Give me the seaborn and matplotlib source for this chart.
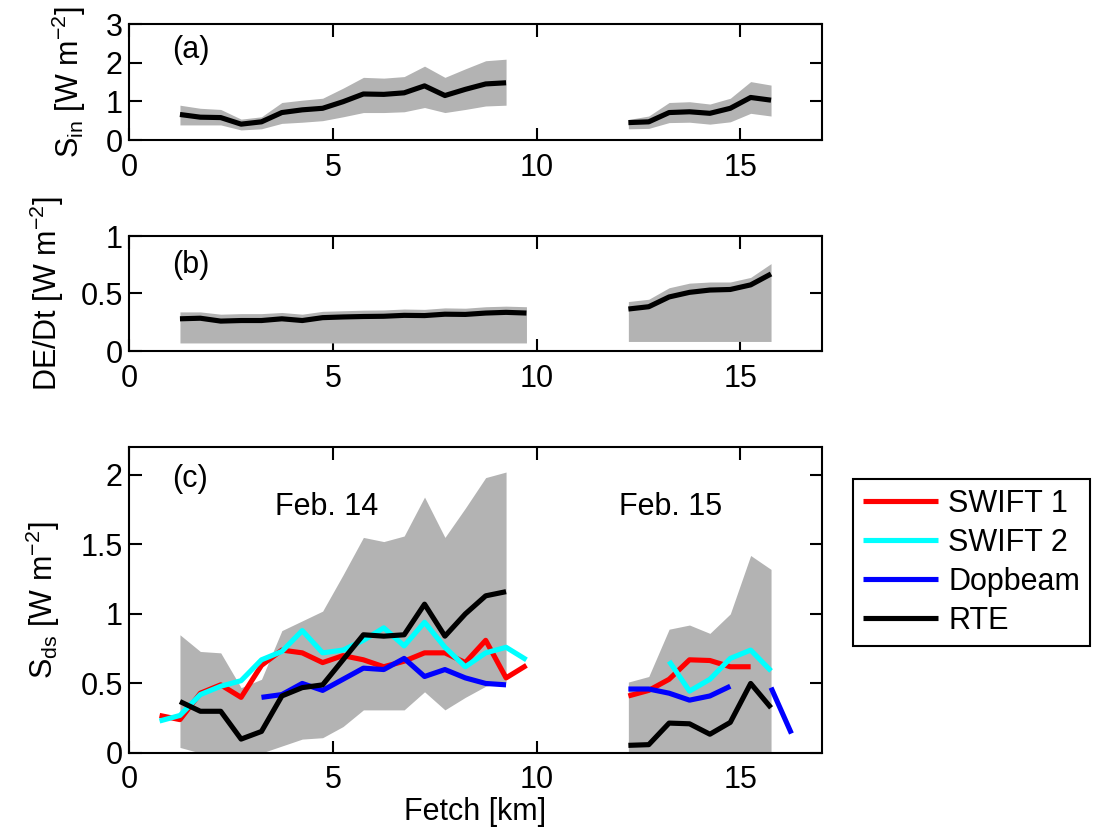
import numpy as np
import pandas as pd
import matplotlib
matplotlib.use("Agg")
import matplotlib.pyplot as plt
import seaborn as sns
from matplotlib.lines import Line2D

# ---------------- data ----------------
# fetch positions [km]
fetch_14 = [1.25, 1.75, 2.25, 2.75, 3.25, 3.75, 4.25, 4.75, 5.25, 5.75,
            6.25, 6.75, 7.25, 7.75, 8.25, 8.75, 9.25]
fetch_15 = [12.25, 12.75, 13.25, 13.75, 14.25, 14.75, 15.25, 15.75]
fetch_b14 = [1.25, 1.75, 2.25, 2.75, 3.25, 3.75, 4.25, 4.75, 5.25, 5.75,
             6.25, 6.75, 7.25, 7.75, 8.25, 8.75, 9.25, 9.75]
fetch_swift14 = [0.75, 1.25, 1.75, 2.25, 2.75, 3.25, 3.75, 4.25, 4.75, 5.25,
                 5.75, 6.25, 6.75, 7.25, 7.75, 8.25, 8.75, 9.25, 9.75]
fetch_dop14 = [3.25, 3.75, 4.25, 4.75, 5.25, 5.75, 6.25, 6.75, 7.25, 7.75,
               8.25, 8.75, 9.25]
fetch_swift1_15 = [12.25, 12.75, 13.25, 13.75, 14.25, 14.75, 15.25]
fetch_swift2_15 = [13.25, 13.75, 14.25, 14.75, 15.25, 15.75]
fetch_dop15a = [12.25, 12.75, 13.25, 13.75, 14.25, 14.75]
fetch_dop15b = [15.75, 16.25]

# (a) wind input S_in
sin_14 = [0.66, 0.59, 0.58, 0.41, 0.47, 0.71, 0.78, 0.82, 0.99, 1.19,
          1.18, 1.22, 1.40, 1.15, 1.31, 1.45, 1.48]
sin_14_hi = [0.90, 0.82, 0.79, 0.54, 0.60, 0.97, 1.03, 1.08, 1.34, 1.62,
             1.60, 1.64, 1.91, 1.62, 1.84, 2.05, 2.09]
sin_14_lo = [0.39, 0.39, 0.39, 0.26, 0.29, 0.43, 0.46, 0.50, 0.60, 0.71,
             0.71, 0.73, 0.84, 0.71, 0.79, 0.88, 0.90]
sin_15 = [0.45, 0.47, 0.71, 0.73, 0.69, 0.82, 1.10, 1.03]
sin_15_hi = [0.53, 0.62, 0.97, 0.99, 0.93, 1.08, 1.51, 1.42]
sin_15_lo = [0.29, 0.30, 0.45, 0.46, 0.41, 0.47, 0.69, 0.62]

# (b) DE/Dt
dedt_14 = [0.280, 0.285, 0.260, 0.265, 0.265, 0.280, 0.265, 0.290, 0.296,
           0.300, 0.302, 0.310, 0.308, 0.320, 0.318, 0.330, 0.336, 0.330]
dedt_14_hi = [0.340, 0.340, 0.320, 0.325, 0.325, 0.335, 0.320, 0.345, 0.350,
              0.355, 0.357, 0.365, 0.362, 0.375, 0.372, 0.385, 0.390, 0.385]
dedt_14_lo = [0.07, 0.07, 0.07, 0.07, 0.07, 0.07, 0.07, 0.07, 0.07,
              0.07, 0.07, 0.07, 0.07, 0.07, 0.07, 0.07, 0.07, 0.07]
dedt_15 = [0.365, 0.385, 0.470, 0.510, 0.530, 0.535, 0.575, 0.670]
dedt_15_hi = [0.43, 0.45, 0.55, 0.59, 0.60, 0.60, 0.64, 0.76]
dedt_15_lo = [0.083, 0.083, 0.083, 0.083, 0.083, 0.083, 0.083, 0.083]

# (c) dissipation S_ds
sds_band_14_hi = [0.85, 0.73, 0.72, 0.47, 0.53, 0.88, 0.95, 1.02, 1.28, 1.55,
                  1.52, 1.56, 1.84, 1.55, 1.76, 1.98, 2.02]
sds_band_14_lo = [0.04, 0.0, 0.0, 0.0, 0.0, 0.05, 0.10, 0.11, 0.19, 0.31,
                  0.31, 0.31, 0.44, 0.31, 0.40, 0.48, 0.51]
sds_band_15_hi = [0.51, 0.55, 0.89, 0.92, 0.86, 1.00, 1.42, 1.32]
sds_band_15_lo = [0.0, 0.0, 0.0, 0.0, 0.0, 0.0, 0.0, 0.0]

swift1_14 = [0.27, 0.24, 0.43, 0.49, 0.40, 0.63, 0.74, 0.72, 0.65, 0.70,
             0.67, 0.62, 0.66, 0.72, 0.72, 0.65, 0.81, 0.54, 0.63]
swift1_15 = [0.41, 0.45, 0.53, 0.67, 0.665, 0.62, 0.62]
swift2_14 = [0.23, 0.27, 0.42, 0.48, 0.52, 0.67, 0.73, 0.88, 0.72, 0.74,
             0.81, 0.90, 0.77, 0.94, 0.76, 0.62, 0.72, 0.76, 0.67]
swift2_15 = [0.66, 0.445, 0.53, 0.68, 0.74, 0.59]
dop_14 = [0.40, 0.42, 0.50, 0.45, 0.53, 0.61, 0.60, 0.68, 0.55, 0.60,
          0.54, 0.50, 0.49]
dop_15a = [0.46, 0.46, 0.43, 0.38, 0.41, 0.48]
dop_15b = [0.47, 0.14]
rte_14 = [0.37, 0.30, 0.30, 0.10, 0.155, 0.41, 0.47, 0.49, 0.67, 0.85,
          0.84, 0.85, 1.07, 0.84, 1.00, 1.13, 1.16]
rte_15 = [0.055, 0.06, 0.215, 0.21, 0.135, 0.22, 0.50, 0.325]

series_names = ["SWIFT 1", "SWIFT 2", "Dopbeam", "RTE"]
series_colors = ["#ff0000", "#00ffff", "#0000ff", "#000000"]

x_ticks = [0, 5, 10, 15]
x_ticklabels = ["0", "5", "10", "15"]

# ---------------- style ----------------
sns.set_theme(style="ticks")
plt.rcParams.update({
    "font.family": ["Liberation Sans", "DejaVu Sans"],
    "font.size": 22,
    "mathtext.fontset": "custom",
    "mathtext.rm": "Liberation Sans",
    "mathtext.it": "Liberation Sans:italic",
    "mathtext.bf": "Liberation Sans:bold",
    "axes.edgecolor": "black",
    "axes.labelcolor": "black",
    "text.color": "black",
    "xtick.color": "black",
    "ytick.color": "black",
    "axes.linewidth": 1.5,
})

GRAY = "#b3b3b3"
LW = 3.7

fig = plt.figure(figsize=(11, 8.38), dpi=100)
L, W = 129 / 1100, 693 / 1100
axa = fig.add_axes([L, 1 - 140 / 838, W, 116 / 838])
axb = fig.add_axes([L, 1 - 351 / 838, W, 115 / 838])
axc = fig.add_axes([L, 1 - 753 / 838, W, 306 / 838])


def band(ax, x, lo, hi):
    ax.fill_between(x, lo, hi, color=GRAY, lw=0, zorder=1)


def line(ax, x, y, color, z=3):
    sns.lineplot(x=x, y=y, color=color, lw=LW, ax=ax, estimator=None,
                 sort=False, legend=False, zorder=z, solid_capstyle="butt")


# (a)
band(axa, fetch_14, sin_14_lo, sin_14_hi)
band(axa, fetch_15, sin_15_lo, sin_15_hi)
line(axa, fetch_14, sin_14, "black")
line(axa, fetch_15, sin_15, "black")

# (b)
band(axb, fetch_b14, dedt_14_lo, dedt_14_hi)
band(axb, fetch_15, dedt_15_lo, dedt_15_hi)
line(axb, fetch_b14, dedt_14, "black")
line(axb, fetch_15, dedt_15, "black")

# (c)
band(axc, fetch_14, sds_band_14_lo, sds_band_14_hi)
band(axc, fetch_15, sds_band_15_lo, sds_band_15_hi)
line(axc, fetch_swift14, swift1_14, series_colors[0], 3)
line(axc, fetch_swift1_15, swift1_15, series_colors[0], 3)
line(axc, fetch_swift14, swift2_14, series_colors[1], 4)
line(axc, fetch_swift2_15, swift2_15, series_colors[1], 4)
line(axc, fetch_dop14, dop_14, series_colors[2], 5)
line(axc, fetch_dop15a, dop_15a, series_colors[2], 5)
line(axc, fetch_dop15b, dop_15b, series_colors[2], 5)
line(axc, fetch_14, rte_14, series_colors[3], 6)
line(axc, fetch_15, rte_15, series_colors[3], 6)

# axes formatting
for ax in (axa, axb, axc):
    ax.set_xlim(0, 17)
    ax.set_xticks(x_ticks)
    ax.set_xticklabels(x_ticklabels)
    ax.tick_params(axis="both", which="major", direction="in", top=True,
                   right=True, length=9, width=1.5, labelsize=22)
    ax.tick_params(axis="x", pad=9)
    ax.tick_params(axis="y", pad=4.5)
    for s in ax.spines.values():
        s.set_visible(True)
        s.set_color("black")
        s.set_linewidth(1.5)
    ax.set_xlabel("")

axa.set_ylim(0, 3)
axa.set_yticks([0, 1, 2, 3])
axa.set_yticklabels(["0", "1", "2", "3"])
axb.set_ylim(0, 1)
axb.set_yticks([0, 0.5, 1])
axb.set_yticklabels(["0", "0.5", "1"])
axc.set_ylim(0, 2.2)
axc.set_yticks([0, 0.5, 1, 1.5, 2])
axc.set_yticklabels(["0", "0.5", "1", "1.5", "2"])

axa.set_ylabel(r"$\mathrm{S_{in}}$ [W m$^{\mathrm{-2}}$]", fontsize=22)
axb.set_ylabel(r"DE/Dt [W m$^{\mathrm{-2}}$]", fontsize=22)
axc.set_ylabel(r"$\mathrm{S_{ds}}$ [W m$^{\mathrm{-2}}$]", fontsize=22)
axa.yaxis.set_label_coords(-0.059, 0.5)
axb.yaxis.set_label_coords(-0.091, 0.5)
axc.yaxis.set_label_coords(-0.097, 0.5)
axc.set_xlabel("Fetch [km]", fontsize=22, labelpad=1)

axa.text(1.05, 2.33, "(a)", ha="left", va="center", fontsize=22)
axb.text(1.05, 0.75, "(b)", ha="left", va="center", fontsize=22)
axc.text(1.05, 1.97, "(c)", ha="left", va="center", fontsize=22)
axc.text(3.58, 1.71, "Feb. 14", ha="left", va="baseline", fontsize=22)
axc.text(12.03, 1.71, "Feb. 15", ha="left", va="baseline", fontsize=22)

handles = [Line2D([], [], color=c, lw=LW, solid_capstyle="butt")
           for c in series_colors]
leg = fig.legend(handles, series_names, loc="upper left",
                 bbox_to_anchor=(853 / 1100, 1 - 479 / 838),
                 frameon=True, fancybox=False, framealpha=1,
                 edgecolor="black", fontsize=22, handlelength=2.45,
                 handletextpad=0.33, labelspacing=0.29, borderpad=0.33,
                 borderaxespad=0)
leg.get_frame().set_linewidth(1.5)

fig.savefig("out.png", dpi=100)
